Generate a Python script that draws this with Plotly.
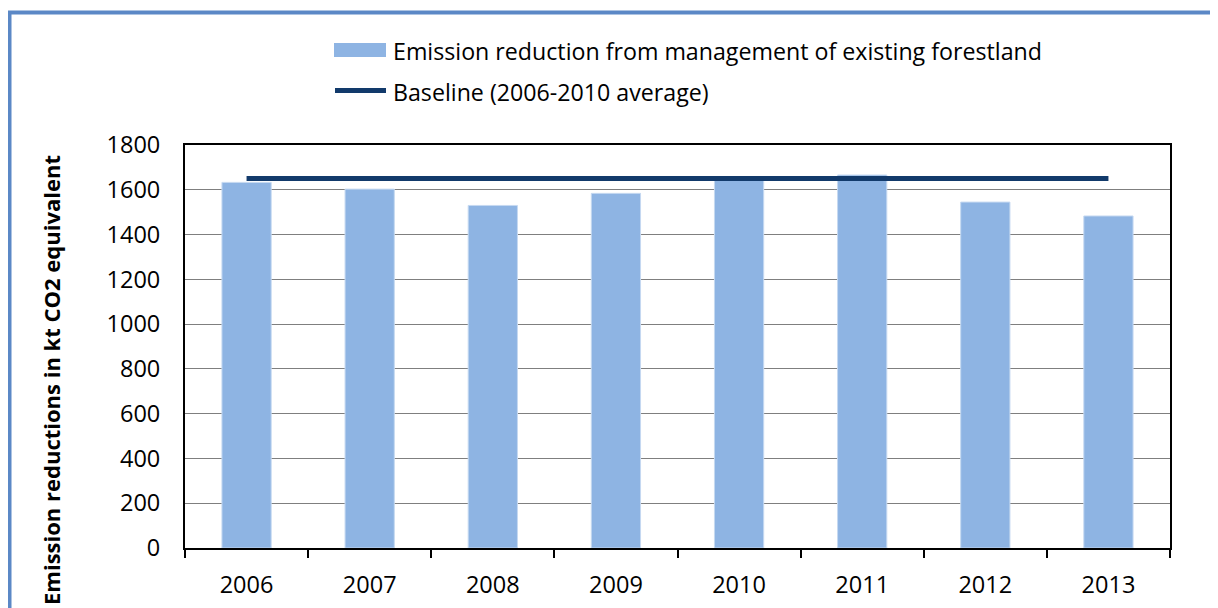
import plotly.graph_objects as go

years = ["2006", "2007", "2008", "2009", "2010", "2011", "2012", "2013"]
reductions = [1633, 1603, 1530, 1584, 1650, 1666, 1545, 1483]
baseline = [1650, 1650, 1650, 1650, 1650, 1650, 1650, 1650]
y_ticks = [0, 200, 400, 600, 800, 1000, 1200, 1400, 1600, 1800]

bar_name = "Emission reduction from management of existing forestland"
line_name = "Baseline (2006-2010 average)"

# page has an 8px body margin; work in page pixels and convert
OFF = 8
W, H = 1218 - OFF, 608 - OFF
PL, PR, PT, PB = 185, 1170, 145, 548  # plot area in page pixels
L, R, T, B = PL - OFF, 1218 - PR, PT - OFF, 608 - PB
PW, PH = PR - PL, PB - PT

def px(x):
    return (x - PL) / PW

def py(y):
    return (PB - y) / PH

BAR_COLOR = "#8EB4E3"
LINE_COLOR = "#123A6B"
FRAME_COLOR = "#5B88C6"
FONT = "Open Sans"

fig = go.Figure()
fig.add_trace(go.Bar(x=years, y=reductions, name=bar_name,
                     marker=dict(color=BAR_COLOR, line=dict(color="#C6D9F1", width=1)),
                     showlegend=False))
fig.add_trace(go.Scatter(x=years, y=baseline, name=line_name, mode="lines",
                         line=dict(color=LINE_COLOR, width=5), showlegend=False))

shapes = [
    # outer frame (left and top)
    dict(type="line", xref="paper", yref="paper", x0=px(9.5), x1=px(9.5),
         y0=py(11), y1=py(640), line=dict(color=FRAME_COLOR, width=4)),
    dict(type="line", xref="paper", yref="paper", x0=px(7.5), x1=px(1260),
         y0=py(12.5), y1=py(12.5), line=dict(color=FRAME_COLOR, width=4)),
    # legend symbols
    dict(type="rect", xref="paper", yref="paper", x0=px(334), x1=px(386),
         y0=py(57), y1=py(43), fillcolor=BAR_COLOR, line=dict(width=0)),
    dict(type="line", xref="paper", yref="paper", x0=px(335), x1=px(386),
         y0=py(90.5), y1=py(90.5), line=dict(color=LINE_COLOR, width=5)),
]

annotations = [
    dict(text=bar_name, xref="paper", yref="paper", x=px(391), y=py(51),
         xanchor="left", yanchor="middle", showarrow=False,
         font=dict(family=FONT, size=23.2, color="black")),
    dict(text=line_name, xref="paper", yref="paper", x=px(391), y=py(92),
         xanchor="left", yanchor="middle", showarrow=False,
         font=dict(family=FONT, size=23.2, color="black")),
    dict(text="<b>Emission reductions in kt CO2 equivalent</b>", xref="paper", yref="paper",
         x=px(51), y=py(380), xanchor="center", yanchor="middle", textangle=-90,
         showarrow=False, font=dict(family=FONT, size=22, color="black")),
]

fig.update_layout(
    width=W, height=H,
    margin=dict(l=L, r=R, t=T, b=B, autoexpand=False),
    paper_bgcolor="white", plot_bgcolor="white",
    bargap=0.6,
    showlegend=False,
    shapes=shapes,
    annotations=annotations,
    font=dict(family=FONT, size=23, color="black"),
)
fig.update_xaxes(type="category", tickson="boundaries", ticks="outside", ticklen=8,
                 tickwidth=1.5, tickcolor="black", showline=True, linecolor="black",
                 linewidth=2, mirror=True, showgrid=False, automargin=False,
                 tickfont=dict(family=FONT, size=23.5, color="black"), ticklabelstandoff=15)
fig.update_yaxes(range=[0, 1800], tickvals=y_ticks, ticks="", showline=True,
                 linecolor="black", linewidth=2, mirror=True, showgrid=True,
                 gridcolor="#7F7F7F", gridwidth=1, zeroline=False, automargin=False,
                 tickfont=dict(family=FONT, size=23.5, color="black"), ticklabelstandoff=18)

fig.write_html("out.html")
